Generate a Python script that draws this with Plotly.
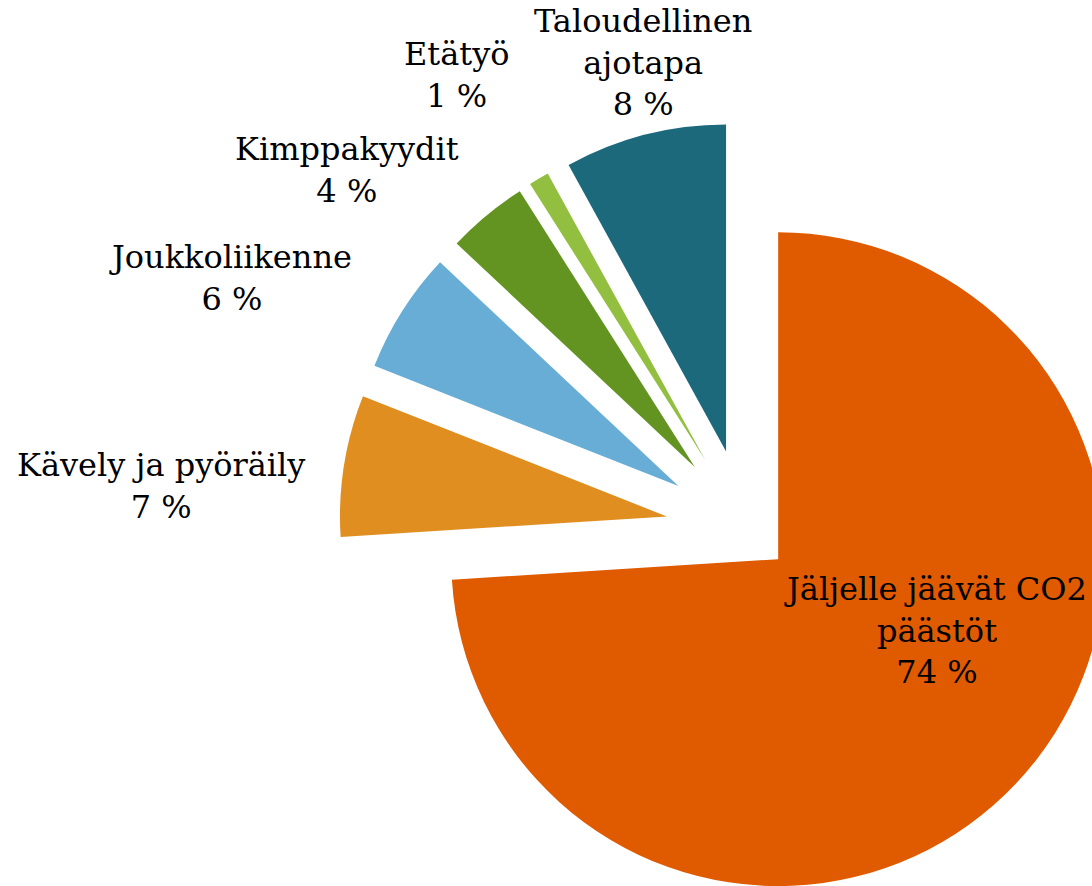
import plotly.graph_objects as go

labels = ["Jäljelle jäävät CO2<br>päästöt", "Kävely ja pyöräily", "Joukkoliikenne",
          "Kimppakyydit", "Etätyö", "Taloudellinen<br>ajotapa"]
values = [74, 7, 6, 4, 1, 8]
colors = ["#E05A00", "#E08E20", "#67ADD5", "#639321", "#93BF40", "#1D697C"]
pulls = [0.135, 0.245, 0.245, 0.245, 0.245, 0.245]

# label centres on the page (pixels), as laid out in the original chart
label_px = [(935, 630), (161, 486), (230, 278), (347, 170), (457, 75), (643, 63)]

W, H = 1200, 1000
cx, cy, half = 746, 529, 407
dx = [(cx - half) / W, (cx + half) / W]
dy = [1 - (cy + half) / H, 1 - (cy - half) / H]
FONT = dict(family="DejaVu Serif", size=32, color="#000000")

fig = go.Figure(go.Pie(
    labels=labels,
    values=values,
    sort=False,
    direction="clockwise",
    rotation=0,
    pull=pulls,
    automargin=False,
    marker=dict(colors=colors, line=dict(width=0)),
    textinfo="none",
    showlegend=False,
    hoverinfo="label+value",
    domain=dict(x=dx, y=dy),
))

for lab, val, (px, py) in zip(labels, values, label_px):
    fig.add_annotation(
        x=px / W, y=1 - py / H, xref="paper", yref="paper",
        text=f"{lab}<br>{val} %", showarrow=False,
        xanchor="center", yanchor="middle", align="center",
        font=FONT,
    )

fig.update_layout(
    width=W, height=H,
    margin=dict(l=0, r=0, t=0, b=0, autoexpand=False),
    paper_bgcolor="white",
    plot_bgcolor="white",
)

fig.write_html("out.html",
               post_script="document.body.style.margin='0';document.body.style.overflow='hidden';")
